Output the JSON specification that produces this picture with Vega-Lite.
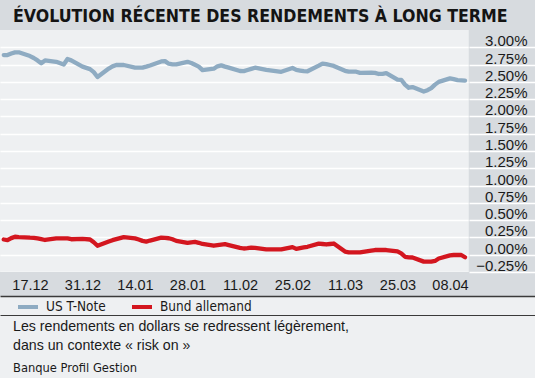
{
  "$schema": "https://vega.github.io/schema/vega-lite/v6.json",
  "background": "#eef0f2",
  "padding": {"left": 0, "right": 0, "top": 0, "bottom": 4},
  "autosize": {"type": "pad"},
  "config": {"view": {"stroke": null}},
  "title": {
    "text": ["Les rendements en dollars se redressent légèrement,", "dans un contexte « risk on »"],
    "subtitle": "Banque Profil Gestion",
    "orient": "bottom",
    "anchor": "start",
    "frame": "group",
    "dx": 13,
    "offset": 5,
    "baseline": "top",
    "lineHeight": 19,
    "font": "Liberation Sans, Arial, sans-serif",
    "fontSize": 14.2,
    "fontWeight": "normal",
    "color": "#1a1a1a",
    "subtitleFont": "DejaVu Sans Condensed, sans-serif",
    "subtitleFontSize": 12.8,
    "subtitleColor": "#1a1a1a",
    "subtitlePadding": 9
  },
  "vconcat": [
    {
      "title": {
        "text": "ÉVOLUTION RÉCENTE DES RENDEMENTS À LONG TERME",
        "anchor": "start",
        "frame": "group",
        "dx": 13,
        "offset": -25.6,
        "baseline": "top",
        "font": "DejaVu Sans Condensed, sans-serif",
        "fontSize": 17.6,
        "fontWeight": "bold",
        "color": "#141414"
      },
      "width": 535,
      "height": 296,
      "resolve": {"axis": {"x": "independent", "y": "independent"}},
      "layer": [
        {
          "data": {"values": [{}]},
          "mark": {"type": "rect", "color": "#d7dbdf"},
          "encoding": {
            "y": {
              "datum": 3.25,
              "type": "quantitative",
              "scale": {"domain": [-0.5971, 3.6839], "nice": false, "zero": false},
              "axis": {
                "orient": "left",
                "title": null,
                "grid": true,
                "gridColor": "#ffffff",
                "gridWidth": 1.5,
                "gridOpacity": 1,
                "labels": false,
                "ticks": false,
                "domain": false,
                "values": [-0.25, 0, 0.25, 0.5, 0.75, 1, 1.25, 1.5, 1.75, 2, 2.25, 2.5, 2.75, 3],
                "minExtent": 0,
                "maxExtent": 0,
                "zindex": 0
              }
            },
            "y2": {"datum": 3.6839}
          }
        },
        {
          "data": {"values": [{}]},
          "mark": {"type": "rect", "color": "#d7dbdf"},
          "encoding": {
            "y": {
              "datum": -0.5971,
              "type": "quantitative",
              "scale": {"domain": [-0.5971, 3.6839], "nice": false, "zero": false},
              "axis": null
            },
            "y2": {"datum": -0.25}
          }
        },
        {
          "data": {"values": [{}]},
          "mark": {"type": "rect", "color": "#d7dbdf"},
          "encoding": {
            "x": {
              "datum": {"year": 2019, "month": 4, "date": 13, "utc": true},
              "type": "temporal",
              "scale": {
                "type": "utc",
                "domain": [
                  {"year": 2018, "month": 12, "date": 9, "utc": true},
                  {"year": 2019, "month": 4, "date": 30, "hours": 16, "utc": true}
                ],
                "nice": false
              },
              "axis": {
                "orient": "bottom",
                "offset": 19,
                "title": null,
                "labels": false,
                "ticks": false,
                "grid": false,
                "domain": true,
                "domainColor": "#3a3a3a",
                "domainWidth": 1,
                "zindex": 1
              }
            },
            "x2": {"datum": {"year": 2019, "month": 4, "date": 30, "hours": 16, "utc": true}}
          }
        },
        {
          "data": {
            "values": [
              {"date": "2018-12-10", "US T-Note": 2.888, "Bund allemand": 0.22},
              {"date": "2018-12-11", "US T-Note": 2.888, "Bund allemand": 0.21},
              {"date": "2018-12-12", "US T-Note": 2.91, "Bund allemand": 0.24},
              {"date": "2018-12-13", "US T-Note": 2.927, "Bund allemand": 0.26},
              {"date": "2018-12-14", "US T-Note": 2.927, "Bund allemand": 0.255},
              {"date": "2018-12-17", "US T-Note": 2.873, "Bund allemand": 0.246},
              {"date": "2018-12-18", "US T-Note": 2.845, "Bund allemand": 0.245},
              {"date": "2018-12-19", "US T-Note": 2.81, "Bund allemand": 0.236},
              {"date": "2018-12-20", "US T-Note": 2.77, "Bund allemand": 0.225},
              {"date": "2018-12-21", "US T-Note": 2.81, "Bund allemand": 0.213},
              {"date": "2018-12-24", "US T-Note": 2.79, "Bund allemand": 0.237},
              {"date": "2018-12-26", "US T-Note": 2.75, "Bund allemand": 0.237},
              {"date": "2018-12-27", "US T-Note": 2.83, "Bund allemand": 0.235},
              {"date": "2018-12-28", "US T-Note": 2.811, "Bund allemand": 0.224},
              {"date": "2018-12-31", "US T-Note": 2.72, "Bund allemand": 0.23},
              {"date": "2019-01-02", "US T-Note": 2.684, "Bund allemand": 0.22},
              {"date": "2019-01-03", "US T-Note": 2.64, "Bund allemand": 0.18},
              {"date": "2019-01-04", "US T-Note": 2.57, "Bund allemand": 0.13},
              {"date": "2019-01-07", "US T-Note": 2.693, "Bund allemand": 0.19},
              {"date": "2019-01-08", "US T-Note": 2.724, "Bund allemand": 0.21},
              {"date": "2019-01-09", "US T-Note": 2.744, "Bund allemand": 0.225},
              {"date": "2019-01-10", "US T-Note": 2.744, "Bund allemand": 0.24},
              {"date": "2019-01-11", "US T-Note": 2.744, "Bund allemand": 0.255},
              {"date": "2019-01-14", "US T-Note": 2.705, "Bund allemand": 0.237},
              {"date": "2019-01-15", "US T-Note": 2.705, "Bund allemand": 0.22},
              {"date": "2019-01-16", "US T-Note": 2.705, "Bund allemand": 0.2},
              {"date": "2019-01-17", "US T-Note": 2.72, "Bund allemand": 0.19},
              {"date": "2019-01-18", "US T-Note": 2.737, "Bund allemand": 0.205},
              {"date": "2019-01-21", "US T-Note": 2.795, "Bund allemand": 0.246},
              {"date": "2019-01-22", "US T-Note": 2.8, "Bund allemand": 0.243},
              {"date": "2019-01-23", "US T-Note": 2.763, "Bund allemand": 0.238},
              {"date": "2019-01-24", "US T-Note": 2.754, "Bund allemand": 0.223},
              {"date": "2019-01-25", "US T-Note": 2.754, "Bund allemand": 0.2},
              {"date": "2019-01-28", "US T-Note": 2.79, "Bund allemand": 0.172},
              {"date": "2019-01-29", "US T-Note": 2.772, "Bund allemand": 0.18},
              {"date": "2019-01-30", "US T-Note": 2.747, "Bund allemand": 0.185},
              {"date": "2019-01-31", "US T-Note": 2.721, "Bund allemand": 0.172},
              {"date": "2019-02-01", "US T-Note": 2.67, "Bund allemand": 0.155},
              {"date": "2019-02-04", "US T-Note": 2.69, "Bund allemand": 0.13},
              {"date": "2019-02-05", "US T-Note": 2.725, "Bund allemand": 0.137},
              {"date": "2019-02-06", "US T-Note": 2.738, "Bund allemand": 0.145},
              {"date": "2019-02-07", "US T-Note": 2.72, "Bund allemand": 0.153},
              {"date": "2019-02-08", "US T-Note": 2.706, "Bund allemand": 0.14},
              {"date": "2019-02-11", "US T-Note": 2.657, "Bund allemand": 0.1},
              {"date": "2019-02-12", "US T-Note": 2.656, "Bund allemand": 0.09},
              {"date": "2019-02-13", "US T-Note": 2.672, "Bund allemand": 0.095},
              {"date": "2019-02-14", "US T-Note": 2.688, "Bund allemand": 0.103},
              {"date": "2019-02-15", "US T-Note": 2.705, "Bund allemand": 0.1},
              {"date": "2019-02-18", "US T-Note": 2.673, "Bund allemand": 0.078},
              {"date": "2019-02-19", "US T-Note": 2.665, "Bund allemand": 0.078},
              {"date": "2019-02-20", "US T-Note": 2.658, "Bund allemand": 0.078},
              {"date": "2019-02-21", "US T-Note": 2.651, "Bund allemand": 0.078},
              {"date": "2019-02-22", "US T-Note": 2.645, "Bund allemand": 0.078},
              {"date": "2019-02-25", "US T-Note": 2.7, "Bund allemand": 0.11},
              {"date": "2019-02-26", "US T-Note": 2.673, "Bund allemand": 0.085},
              {"date": "2019-02-27", "US T-Note": 2.663, "Bund allemand": 0.095},
              {"date": "2019-02-28", "US T-Note": 2.654, "Bund allemand": 0.105},
              {"date": "2019-03-01", "US T-Note": 2.653, "Bund allemand": 0.115},
              {"date": "2019-03-04", "US T-Note": 2.735, "Bund allemand": 0.16},
              {"date": "2019-03-05", "US T-Note": 2.765, "Bund allemand": 0.155},
              {"date": "2019-03-06", "US T-Note": 2.757, "Bund allemand": 0.148},
              {"date": "2019-03-07", "US T-Note": 2.744, "Bund allemand": 0.155},
              {"date": "2019-03-08", "US T-Note": 2.73, "Bund allemand": 0.162},
              {"date": "2019-03-11", "US T-Note": 2.66, "Bund allemand": 0.045},
              {"date": "2019-03-12", "US T-Note": 2.647, "Bund allemand": 0.035},
              {"date": "2019-03-13", "US T-Note": 2.647, "Bund allemand": 0.035},
              {"date": "2019-03-14", "US T-Note": 2.647, "Bund allemand": 0.035},
              {"date": "2019-03-15", "US T-Note": 2.63, "Bund allemand": 0.035},
              {"date": "2019-03-18", "US T-Note": 2.633, "Bund allemand": 0.06},
              {"date": "2019-03-19", "US T-Note": 2.63, "Bund allemand": 0.068},
              {"date": "2019-03-20", "US T-Note": 2.614, "Bund allemand": 0.068},
              {"date": "2019-03-21", "US T-Note": 2.616, "Bund allemand": 0.068},
              {"date": "2019-03-22", "US T-Note": 2.627, "Bund allemand": 0.068},
              {"date": "2019-03-25", "US T-Note": 2.533, "Bund allemand": 0.048},
              {"date": "2019-03-26", "US T-Note": 2.53, "Bund allemand": 0.02},
              {"date": "2019-03-27", "US T-Note": 2.46, "Bund allemand": -0.03},
              {"date": "2019-03-28", "US T-Note": 2.415, "Bund allemand": -0.038},
              {"date": "2019-03-29", "US T-Note": 2.425, "Bund allemand": -0.04},
              {"date": "2019-04-01", "US T-Note": 2.36, "Bund allemand": -0.1},
              {"date": "2019-04-02", "US T-Note": 2.38, "Bund allemand": -0.1},
              {"date": "2019-04-03", "US T-Note": 2.41, "Bund allemand": -0.1},
              {"date": "2019-04-04", "US T-Note": 2.46, "Bund allemand": -0.09},
              {"date": "2019-04-05", "US T-Note": 2.5, "Bund allemand": -0.055},
              {"date": "2019-04-08", "US T-Note": 2.551, "Bund allemand": -0.01},
              {"date": "2019-04-09", "US T-Note": 2.54, "Bund allemand": -0.004},
              {"date": "2019-04-10", "US T-Note": 2.526, "Bund allemand": -0.004},
              {"date": "2019-04-11", "US T-Note": 2.522, "Bund allemand": -0.004},
              {"date": "2019-04-12", "US T-Note": 2.518, "Bund allemand": -0.037}
            ]
          },
          "transform": [{"fold": ["US T-Note", "Bund allemand"], "as": ["series", "value"]}],
          "mark": {"type": "line", "strokeWidth": 4.3, "strokeJoin": "round", "strokeCap": "round"},
          "encoding": {
            "x": {
              "field": "date",
              "type": "temporal",
              "scale": {
                "type": "utc",
                "domain": [
                  {"year": 2018, "month": 12, "date": 9, "utc": true},
                  {"year": 2019, "month": 4, "date": 30, "hours": 16, "utc": true}
                ],
                "nice": false
              },
              "axis": {
                "orient": "bottom",
                "offset": 0,
                "title": null,
                "format": "%d.%m",
                "values": [
                  {"year": 2018, "month": 12, "date": 17, "utc": true},
                  {"year": 2018, "month": 12, "date": 31, "utc": true},
                  {"year": 2019, "month": 1, "date": 14, "utc": true},
                  {"year": 2019, "month": 1, "date": 28, "utc": true},
                  {"year": 2019, "month": 2, "date": 11, "utc": true},
                  {"year": 2019, "month": 2, "date": 25, "utc": true},
                  {"year": 2019, "month": 3, "date": 11, "utc": true},
                  {"year": 2019, "month": 3, "date": 25, "utc": true},
                  {"year": 2019, "month": 4, "date": 8, "utc": true}
                ],
                "ticks": false,
                "grid": false,
                "domain": true,
                "domainColor": "#3a3a3a",
                "domainWidth": 1.5,
                "labelPadding": -11,
                "labelBaseline": "middle",
                "labelFont": "Liberation Sans, Arial, sans-serif",
                "labelFontSize": 14.5,
                "labelColor": "#1a1a1a",
                "labelFlush": false,
                "labelOverlap": false,
                "minExtent": 0,
                "zindex": 1
              }
            },
            "y": {
              "field": "value",
              "type": "quantitative",
              "scale": {"domain": [-0.5971, 3.6839], "nice": false, "zero": false},
              "axis": {
                "orient": "right",
                "offset": 0,
                "title": null,
                "values": [-0.25, 0, 0.25, 0.5, 0.75, 1, 1.25, 1.5, 1.75, 2, 2.25, 2.5, 2.75, 3],
                "labelExpr": "format(datum.value, '.2f') + '%'",
                "grid": false,
                "domain": false,
                "ticks": true,
                "tickSize": -66,
                "tickColor": "#ffffff",
                "tickWidth": 1.5,
                "tickOpacity": 1,
                "labelAlign": "right",
                "labelBaseline": "alphabetic",
                "labelOffset": -1.5,
                "labelPadding": 58,
                "labelFont": "Liberation Sans, Arial, sans-serif",
                "labelFontSize": 15,
                "labelColor": "#1a1a1a",
                "labelFlush": false,
                "labelOverlap": false,
                "minExtent": 0,
                "maxExtent": 0,
                "zindex": 1
              }
            },
            "color": {
              "field": "series",
              "type": "nominal",
              "scale": {"domain": ["US T-Note", "Bund allemand"], "range": ["#8eabc2", "#d3161f"]},
              "legend": {
                "orient": "none",
                "legendX": 16,
                "legendY": 295,
                "direction": "horizontal",
                "title": null,
                "symbolType": "stroke",
                "symbolSize": 400,
                "symbolStrokeWidth": 4,
                "labelFont": "DejaVu Sans Condensed, sans-serif",
                "labelFontSize": 13.5,
                "labelColor": "#1a1a1a",
                "labelOffset": 6,
                "columnPadding": 18,
                "padding": 0
              }
            }
          }
        }
      ]
    }
  ]
}
